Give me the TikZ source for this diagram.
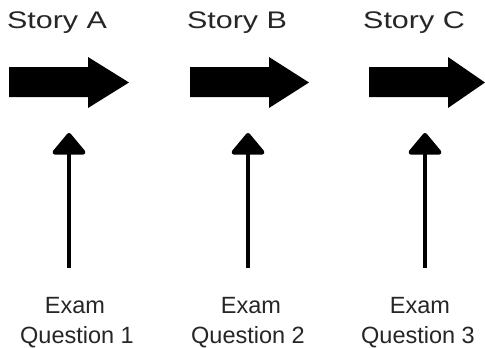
\documentclass[tikz,border=0pt]{standalone}
\usepackage{fontspec}
\setmainfont{Liberation Sans}
\usetikzlibrary{arrows.meta}
\tikzset{
  storylbl/.style={anchor=base,inner sep=0pt,text=black!85,font=\fontsize{24}{28}\selectfont},
  examlbl/.style={anchor=base,inner sep=0pt,text=black!85,font=\fontsize{23.5}{28}\selectfont},
  bigarrow/.style={fill=black},
  uparrow/.style={line width=4.6pt,-{Triangle[width=37pt,length=23pt,round]}}
}
\newcommand{\bigarr}[3]{% #1 left x, #2 head base x, #3 tip x
  \fill[bigarrow] (#1,67) -- (#2,67) -- (#2,57) -- (#3,82.5) -- (#2,108) -- (#2,97) -- (#1,97) -- cycle;}
\begin{document}
\begin{tikzpicture}[x=1pt,y=-1pt]
\useasboundingbox[fill=white] (0,0) rectangle (485,348);
% story labels
\node[storylbl] (sa) at (57,28) {\scalebox{1.27}[1]{Story A}};
\node[storylbl] (sb) at (237,28) {\scalebox{1.27}[1]{Story B}};
\node[storylbl] (sc) at (414,28) {\scalebox{1.27}[1]{Story C}};
% big arrows
\bigarr{9}{88}{129}
\bigarr{190}{269}{309}
\bigarr{369}{448}{485}
\coordinate (ta) at (69,133);
\coordinate (tb) at (248,133);
\coordinate (tc) at (425,133);
% exam labels
\node[examlbl] (ea) at (75,313) {Exam};
\node[examlbl] (qa) at (77,343) {Question 1};
\node[examlbl] (eb) at (251,313) {Exam};
\node[examlbl] (qb) at (248,343) {Question 2};
\node[examlbl] (ec) at (420,313) {Exam};
\node[examlbl] (qc) at (418,343) {Question 3};
\coordinate (ba) at (69,268);
\coordinate (bb) at (248,268);
\coordinate (bc) at (425,268);
\draw[uparrow] (ba) -- (ta);
\draw[uparrow] (bb) -- (tb);
\draw[uparrow] (bc) -- (tc);
\end{tikzpicture}
\end{document}
